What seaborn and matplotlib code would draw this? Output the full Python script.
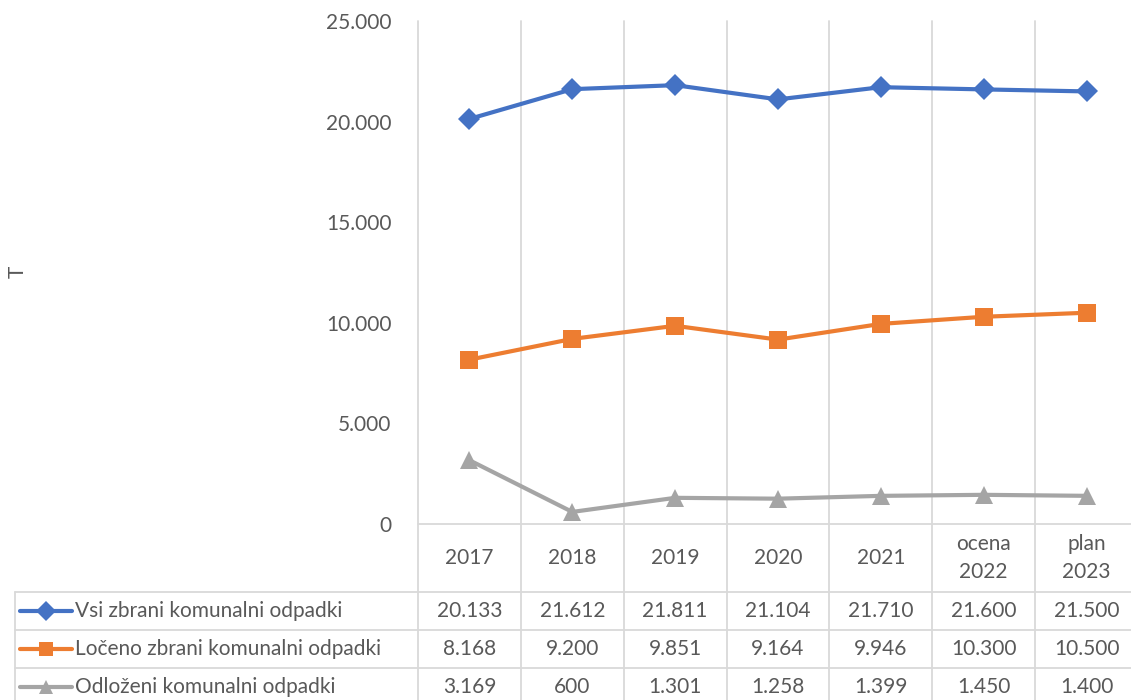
import numpy as np
import pandas as pd
import seaborn as sns
from matplotlib import pyplot as plt
from matplotlib import transforms
from matplotlib.ticker import FuncFormatter

categories = ["2017", "2018", "2019", "2020", "2021", "ocena\n2022", "plan\n2023"]
series_names = ["Vsi zbrani komunalni odpadki",
                "Ločeno zbrani komunalni odpadki",
                "Odloženi komunalni odpadki"]
vsi = [20133, 21612, 21811, 21104, 21710, 21600, 21500]
loceno = [8168, 9200, 9851, 9164, 9946, 10300, 10500]
odlozeni = [3169, 600, 1301, 1258, 1399, 1450, 1400]

colors = ["#4472C4", "#ED7D31", "#A5A5A5"]
marker_list = ["D", "s", "^"]
text_col = "#595959"
grid_col = "#D9D9D9"
fs = 15

sns.set_style("white")
plt.rcParams["font.family"] = ["Lato", "DejaVu Sans"]

rows = []
for name, vals in zip(series_names, [vsi, loceno, odlozeni]):
    for i, v in enumerate(vals):
        rows.append({"x": i, "value": v, "series": name})
df = pd.DataFrame(rows)

W, H = 1131, 700
fig = plt.figure(figsize=(W / 100, H / 100), dpi=100)
ax_left, ax_right, ax_top, ax_bot = 418, 1138, 21, 524
ax = fig.add_axes([ax_left / W, 1 - ax_bot / H, (ax_right - ax_left) / W, (ax_bot - ax_top) / H])
ax.patch.set_alpha(0)

sns.lineplot(data=df, x="x", y="value", hue="series", style="series",
             palette=colors, markers=dict(zip(series_names, marker_list)),
             dashes=False, linewidth=3, markersize=13, markeredgewidth=0,
             legend=False, ax=ax)
# diamonds look bigger than squares at the same size, shrink them a bit
ax.lines[0].set_markersize(11.5)

ax.set_xlim(-0.5, len(categories) - 0.5)
ax.set_ylim(0, 25000)
ax.set_yticks(np.arange(0, 25001, 5000))
ax.yaxis.set_major_formatter(FuncFormatter(lambda v, p: f"{int(v):,}".replace(",", ".")))
ax.tick_params(axis="y", length=0, pad=19, labelsize=fs, labelcolor=text_col)
ax.set_xticks([])
ax.set_xlabel("")
ax.set_ylabel("")
for s in ax.spines.values():
    s.set_visible(False)

fig.text(18 / W, 1 - 272 / H, "T", rotation=90, ha="center", va="center",
         fontsize=fs, color=text_col)

# pixel coords (y down from top) and mixed data-x / pixel-y
fig_px = transforms.Affine2D().scale(1 / W, -1 / H).translate(0, 1) + fig.transFigure
mixed = transforms.blended_transform_factory(ax.transData, fig_px)

# category borders run from top of the plot down through the table
for k in range(len(categories) + 1):
    xb = k - 0.5
    fig.add_artist(plt.Line2D([xb, xb], [ax_top, H], transform=mixed,
                              color=grid_col, linewidth=1.3, zorder=0))

fig.add_artist(plt.Line2D([ax_left, ax_right], [ax_bot, ax_bot], transform=fig_px,
                          color=grid_col, linewidth=1.3, zorder=0))
for yl in [592, 630, 668]:
    fig.add_artist(plt.Line2D([15, ax_right], [yl, yl], transform=fig_px,
                              color=grid_col, linewidth=1.3, zorder=0))
fig.add_artist(plt.Line2D([15, 15], [592, H], transform=fig_px,
                          color=grid_col, linewidth=1.3, zorder=0))

# header labels
for i, c in enumerate(categories):
    ax.text(i, 558, c, transform=mixed, ha="center", va="center", fontsize=fs,
            color=text_col, linespacing=1.5, clip_on=False)

# table rows with legend keys
row_centers = [611, 649, 687]
for name, vals, col, mk, yc in zip(series_names, [vsi, loceno, odlozeni], colors, marker_list, row_centers):
    fig.add_artist(plt.Line2D([20, 72], [yc, yc], transform=fig_px, color=col, linewidth=3))
    fig.add_artist(plt.Line2D([46], [yc], transform=fig_px, color=col, marker=mk,
                              markersize=10, markeredgewidth=0, linestyle="none"))
    fig.text(75 / W, 1 - yc / H, name, ha="left", va="center", fontsize=fs, color=text_col)
    for i, v in enumerate(vals):
        ax.text(i, yc, f"{v:,}".replace(",", "."), transform=mixed, ha="center", va="center",
                fontsize=fs, color=text_col, clip_on=False)

fig.savefig("out.png", dpi=100)
